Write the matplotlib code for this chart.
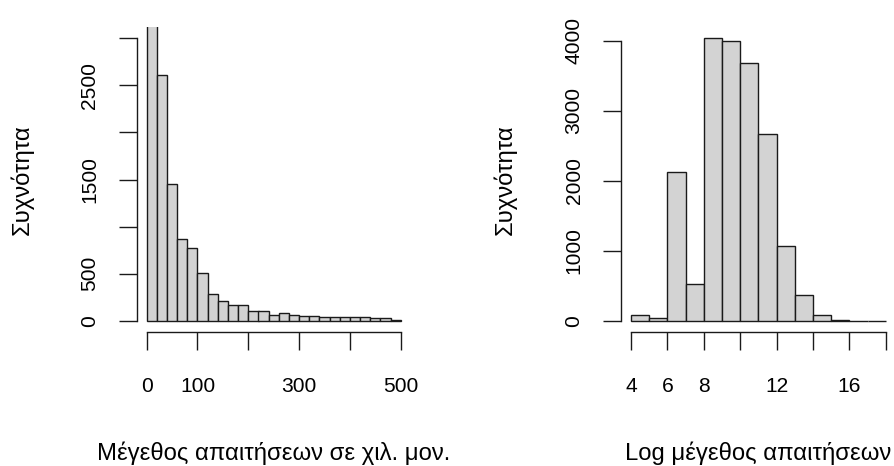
import numpy as np
from matplotlib import pyplot as plt

# αριστερό ιστόγραμμα: μέγεθος απαιτήσεων (χιλ. μον.), κάδοι των 20
claim_bin_start = 0
claim_bin_width = 20
claim_counts = [3700, 2610, 1449, 864, 769, 505, 284, 205, 167, 167,
                99, 99, 57, 78, 57, 55, 55, 40, 40, 40, 40, 40, 25, 25, 10]
claim_xticks = [0, 100, 200, 300, 400, 500]
claim_xlabels = ['0', '100', '', '300', '', '500']
claim_yticks = [0, 500, 1000, 1500, 2000, 2500, 3000]
claim_ylabels = ['0', '500', '', '1500', '', '2500', '']
claim_ylim_top = 3000

# δεξί ιστόγραμμα: log μέγεθος, κάδοι του 1
log_bin_start = 4
log_bin_width = 1
log_counts = [86, 43, 2126, 524, 4033, 4000, 3681, 2670, 1073, 367, 86, 3, 1, 1]
log_xticks = [4, 6, 8, 10, 12, 14, 16, 18]
log_xlabels = ['4', '6', '8', '', '12', '', '16', '']
log_yticks = [0, 1000, 2000, 3000, 4000]
log_ylabels = ['0', '1000', '2000', '3000', '4000']

plt.rcParams['font.family'] = ['Liberation Sans', 'DejaVu Sans']
FS = 15.1      # αριθμοί αξόνων
FS_LAB = 17.2  # τίτλοι αξόνων
INK = '#1a1a1a'

fig = plt.figure(figsize=(8.94, 4.66), dpi=100)
W, H = 894, 466


def panel(rect_px, start, width, counts, xticks, xlabels, yticks, ylabels, ytop=None):
    x0, y0, x1, y1 = rect_px
    ax = fig.add_axes([x0 / W, 1 - y1 / H, (x1 - x0) / W, (y1 - y0) / H])
    edges = start + width * np.arange(len(counts) + 1)
    ax.bar(edges[:-1], counts, width=width, align='edge',
           color='#D3D3D3', edgecolor=INK, linewidth=1.0)
    xr = edges[-1] - edges[0]
    ax.set_xlim(edges[0] - 0.04 * xr, edges[-1] + 0.04 * xr)
    top = ytop if ytop is not None else max(counts)
    ax.set_ylim(-0.04 * top, top * 1.04)
    ax.set_xticks(xticks, xlabels)
    ax.set_yticks(yticks, ylabels)
    for lab in ax.get_yticklabels():
        lab.set_rotation(90)
        lab.set_va('center')
    ax.tick_params(length=12.7, width=1.0, color=INK, labelsize=FS,
                   labelcolor='black')
    ax.tick_params(axis='x', pad=19.5)
    ax.tick_params(axis='y', pad=14)
    for s in ['top', 'right']:
        ax.spines[s].set_visible(False)
    ax.spines['bottom'].set_bounds(xticks[0], xticks[-1])
    ax.spines['left'].set_bounds(yticks[0], yticks[-1])
    for s in ['bottom', 'left']:
        ax.spines[s].set_linewidth(1.0)
        ax.spines[s].set_color(INK)
    ax.set_facecolor('none')
    return ax


panel((136.5, 27, 411, 332), claim_bin_start, claim_bin_width, claim_counts,
      claim_xticks, claim_xlabels, claim_yticks, claim_ylabels, claim_ylim_top)
panel((620.7, 27, 896, 332), log_bin_start, log_bin_width, log_counts,
      log_xticks, log_xlabels, log_yticks, log_ylabels)

fig.text(273.7 / W, 1 - 453 / H, 'Μέγεθος απαιτήσεων σε χιλ. μον.',
         ha='center', va='center', fontsize=FS_LAB)
fig.text(758 / W, 1 - 453 / H, 'Log μέγεθος απαιτήσεων',
         ha='center', va='center', fontsize=FS_LAB)
fig.text(22 / W, 1 - 179.5 / H, 'Συχνότητα', rotation=90,
         ha='center', va='center', fontsize=FS_LAB)
fig.text(505 / W, 1 - 179.5 / H, 'Συχνότητα', rotation=90,
         ha='center', va='center', fontsize=FS_LAB)

plt.savefig('out.png', dpi=100)
